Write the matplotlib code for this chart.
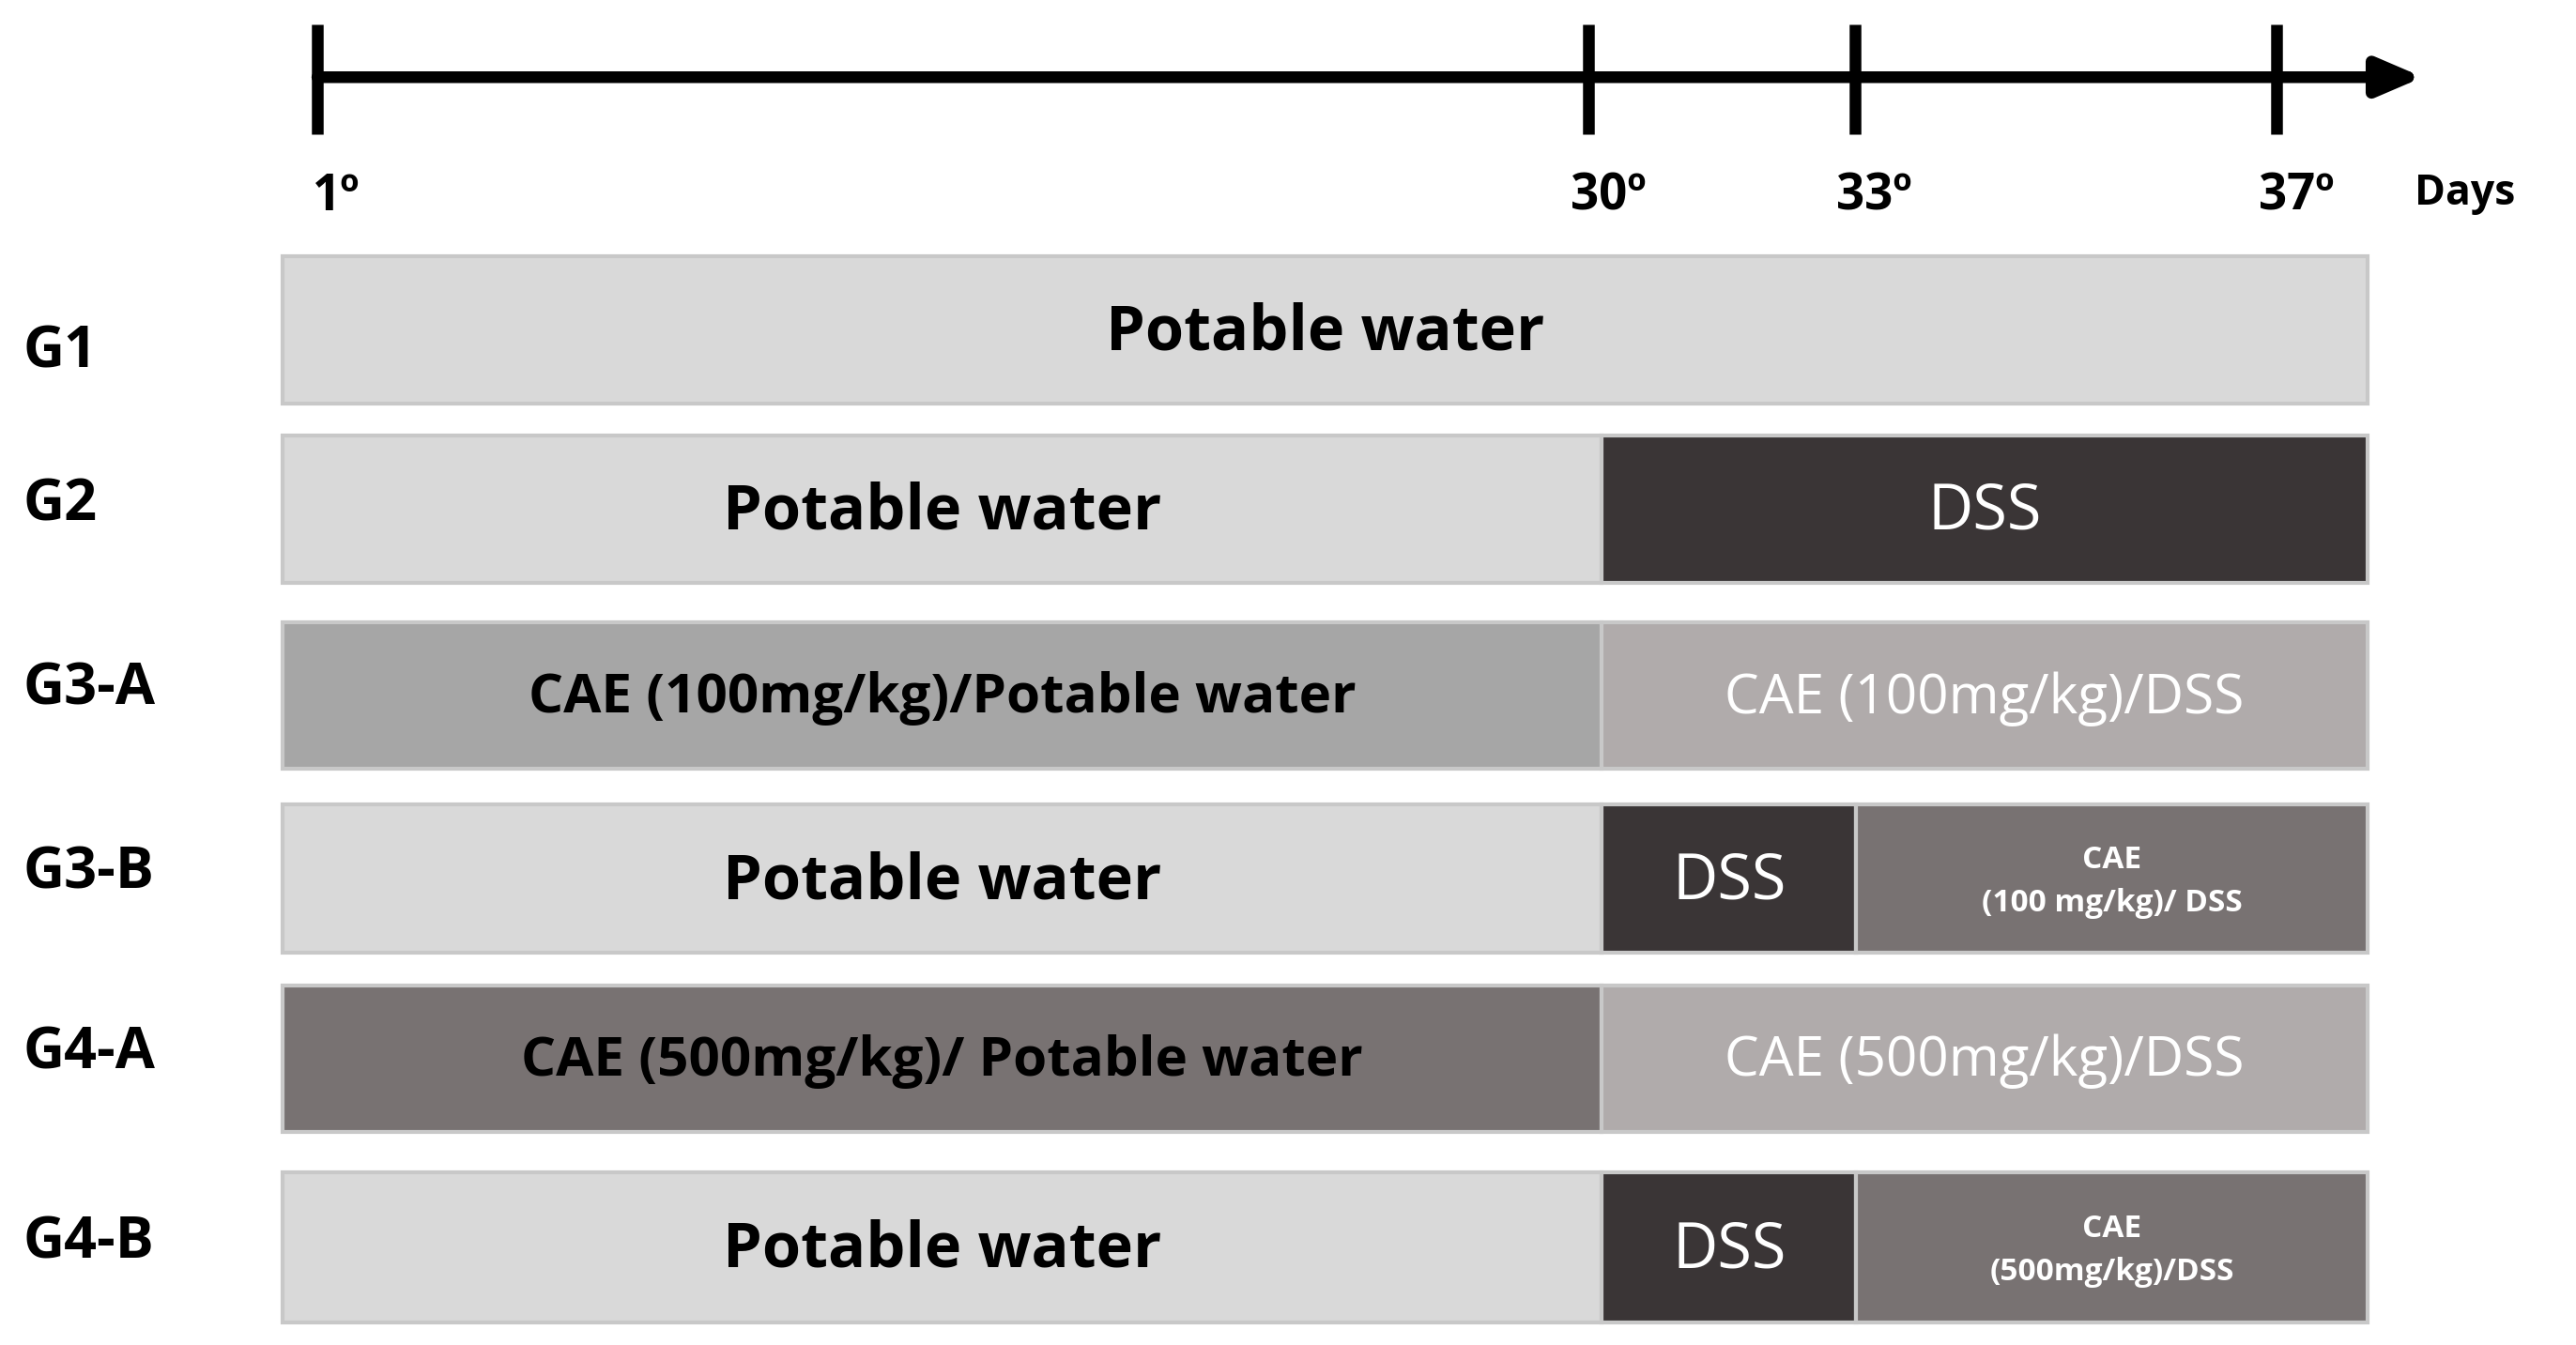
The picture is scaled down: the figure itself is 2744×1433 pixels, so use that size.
import matplotlib
matplotlib.use("Agg")
import matplotlib.pyplot as plt
from matplotlib.patches import Rectangle

plt.rcParams['font.family'] = ['Open Sans', 'DejaVu Sans']

# timeline ticks (label, x position in layout units)
tick_labels = ["1º", "30º", "33º", "37º"]
tick_x = [193, 967, 1129, 1386]

groups = ["G1", "G2", "G3-A", "G3-B", "G4-A", "G4-B"]
row_top = [156, 265, 379, 490, 600, 714]
row_bot = [246, 355, 468, 580, 689, 805]
label_y = [215, 308, 420, 532, 642, 757]

LIGHT = "#d9d9d9"
DARK = "#3a3536"
MID = "#a6a6a6"
PALE = "#b0abab"
GREY = "#787272"

# segments per group: (x0, x1, colour, text, text colour, fontsize)
segments = [
    [(172, 1441, LIGHT, "Potable water", "black", 24)],
    [(172, 975, LIGHT, "Potable water", "black", 24),
     (975, 1441, DARK, "DSS", "white", 24)],
    [(172, 975, MID, "CAE (100mg/kg)/Potable water", "black", 21),
     (975, 1441, PALE, "CAE (100mg/kg)/DSS", "white", 21)],
    [(172, 975, LIGHT, "Potable water", "black", 24),
     (975, 1130, DARK, "DSS", "white", 24),
     (1130, 1441, GREY, "CAE\n(100 mg/kg)/ DSS", "white", 12)],
    [(172, 975, GREY, "CAE (500mg/kg)/ Potable water", "black", 21),
     (975, 1441, PALE, "CAE (500mg/kg)/DSS", "white", 21)],
    [(172, 975, LIGHT, "Potable water", "black", 24),
     (975, 1130, DARK, "DSS", "white", 24),
     (1130, 1441, GREY, "CAE\n(500mg/kg)/DSS", "white", 12)],
]

fig = plt.figure(figsize=(13.72, 7.165), dpi=200)
ax = fig.add_axes([0, 0, 1, 1])
ax.set_xlim(0, 1568)
ax.set_ylim(819, 0)
ax.axis("off")

# timeline
ax.annotate("", xy=(1478, 47), xytext=(190, 47),
            arrowprops=dict(arrowstyle="-|>,head_length=1.4,head_width=0.6",
                            lw=4.5, color="black"))
for lab, x in zip(tick_labels, tick_x):
    ax.plot([x, x], [15, 82], color="black", lw=4.5, solid_capstyle="butt")
    ax.text(x + 12, 120, lab, ha="center", va="center", fontsize=19, fontweight="bold")
ax.text(1470, 118, "Days", ha="left", va="center", fontsize=16, fontweight="bold")

for g, top, bot, ly, segs in zip(groups, row_top, row_bot, label_y, segments):
    ax.text(14, ly, g, ha="left", va="center", fontsize=22, fontweight="bold")
    for x0, x1, col, txt, tc, fs in segs:
        ax.add_patch(Rectangle((x0, top), x1 - x0, bot - top, facecolor=col,
                               edgecolor="#c8c8c8", lw=1.5))
        bold = "bold" if tc == "black" or fs == 12 or txt == "" else "normal"
        if txt == "DSS":
            bold = "normal"
        ax.text((x0 + x1) / 2, (top + bot) / 2 + 2, txt, ha="center", va="center",
                color=tc, fontsize=fs, fontweight=bold, linespacing=1.5)

fig.savefig("out.png", dpi=200)
plt.close(fig)
